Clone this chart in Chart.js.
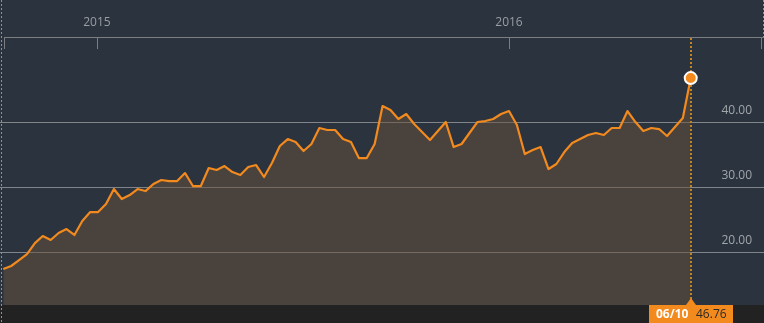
<!DOCTYPE html>
<html>
<head>
<meta charset="utf-8">
<script src="https://cdn.jsdelivr.net/npm/chart.js@4/dist/chart.umd.min.js"></script>
<style>
  html, body { margin: 0; padding: 0; background: #2a333e; overflow: hidden; }
  #wrap { width: 764px; height: 323px; }
</style>
</head>
<body>
<div id="wrap"><canvas id="stock"></canvas></div>
<script>
// weekly closes
const dates = [
  '2014-10-10','2014-10-17','2014-10-24','2014-10-31','2014-11-07','2014-11-14','2014-11-21','2014-11-28',
  '2014-12-05','2014-12-12','2014-12-19','2014-12-26',
  '2015-01-02','2015-01-09','2015-01-16','2015-01-23','2015-01-30','2015-02-06','2015-02-13','2015-02-20',
  '2015-02-27','2015-03-06','2015-03-13','2015-03-20','2015-03-27','2015-04-03','2015-04-10','2015-04-17',
  '2015-04-24','2015-05-01','2015-05-08','2015-05-15','2015-05-22','2015-05-29','2015-06-05','2015-06-12',
  '2015-06-19','2015-06-26','2015-07-03','2015-07-10','2015-07-17','2015-07-24','2015-07-31','2015-08-07',
  '2015-08-14','2015-08-21','2015-08-28','2015-09-04','2015-09-11','2015-09-18','2015-09-25','2015-10-02',
  '2015-10-09','2015-10-16','2015-10-23','2015-10-30','2015-11-06','2015-11-13','2015-11-20','2015-11-27',
  '2015-12-04','2015-12-11','2015-12-18','2015-12-25',
  '2016-01-01','2016-01-08','2016-01-15','2016-01-22','2016-01-29','2016-02-05','2016-02-12','2016-02-19',
  '2016-02-26','2016-03-04','2016-03-11','2016-03-18','2016-03-25','2016-04-01','2016-04-08','2016-04-15',
  '2016-04-22','2016-04-29','2016-05-06','2016-05-13','2016-05-20','2016-05-27','2016-06-03','2016-06-10'
];

const prices = [
  17.38, 17.85, 18.77, 19.69, 21.38, 22.46, 21.85, 22.92, 23.54, 22.62,
  24.77, 26.15, 26.15, 27.38, 29.69, 28.15, 28.77, 29.69, 29.38, 30.46,
  31.08, 30.92, 30.92, 32.15, 30.15, 30.15, 32.92, 32.62, 33.23, 32.31,
  31.85, 33.08, 33.38, 31.54, 33.69, 36.31, 37.38, 36.92, 35.54, 36.62,
  39.08, 38.77, 38.77, 37.38, 36.92, 34.46, 34.46, 36.62, 42.46, 41.85,
  40.46, 41.23, 39.69, 38.46, 37.23, 38.62, 40.00, 36.15, 36.62, 38.31,
  40.00, 40.15, 40.46, 41.23, 41.69, 39.54, 35.08, 35.69, 36.15, 32.77,
  33.54, 35.38, 36.77, 37.38, 38.00, 38.31, 38.00, 39.08, 39.08, 41.69,
  40.00, 38.62, 39.08, 38.92, 37.85, 39.23, 40.62, 46.76
];

const yearStarts = ['2015-01-01', '2016-01-01'];
const yearLabels = ['2015', '2016'];
const priceTicks = [20, 30, 40];

// days counted from 1 Jan 2015 so the x axis can stay linear
const EPOCH = Date.parse('2015-01-01');
const toDay = d => (Date.parse(d) - EPOCH) / 864e5;

const points = dates.map((d, i) => ({ x: toDay(d), y: prices[i] }));
const yearDays = yearStarts.map(toDay);
const last = points.length - 1;

const ORANGE = '#f28a1e';
const FONT = '"Open Sans", "DejaVu Sans", sans-serif';

// background, edge markers, top rule and the last-value marker
const decor = {
  id: 'decor',
  beforeDraw(chart) {
    const { ctx, width, height, chartArea } = chart;
    ctx.save();
    ctx.fillStyle = '#2a333e';
    ctx.fillRect(0, 0, width, height);
    ctx.fillStyle = '#222222';
    ctx.fillRect(0, chartArea.bottom, width, height - chartArea.bottom);
    ctx.restore();
  },
  afterDatasetsDraw(chart) {
    const { ctx, width, height, chartArea, scales } = chart;
    const x = scales.x;
    const top = chartArea.top;
    ctx.save();

    // top rule with its tick marks
    ctx.strokeStyle = '#7b7d80';
    ctx.lineWidth = 1;
    ctx.beginPath();
    ctx.moveTo(4, top + 0.5);
    ctx.lineTo(width, top + 0.5);
    const tickXs = [4, ...yearDays.map(d => Math.round(x.getPixelForValue(d))), width - 3];
    tickXs.forEach(px => {
      ctx.moveTo(px + 0.5, top);
      ctx.lineTo(px + 0.5, top + 12);
    });
    ctx.stroke();

    // dotted edges
    ctx.setLineDash([2, 2]);
    ctx.strokeStyle = '#d9822b';
    ctx.lineWidth = 1;
    ctx.beginPath();
    ctx.moveTo(1.5, 0);
    ctx.lineTo(1.5, height);
    ctx.moveTo(width - 0.5, 0);
    ctx.lineTo(width - 0.5, top);
    ctx.stroke();

    // crosshair at the last point
    const px = Math.round(x.getPixelForValue(points[last].x));
    const py = scales.y.getPixelForValue(points[last].y);
    ctx.strokeStyle = '#c4841f';
    ctx.lineWidth = 2;
    ctx.beginPath();
    ctx.moveTo(px, top + 1);
    ctx.lineTo(px, py - 7);
    ctx.moveTo(px, py + 7);
    ctx.lineTo(px, chartArea.bottom - 6);
    ctx.stroke();
    ctx.setLineDash([]);

    // value flag in the bottom band
    const b = chartArea.bottom;
    ctx.fillStyle = ORANGE;
    ctx.fillRect(px - 42, b, 84, height - b);
    ctx.beginPath();
    ctx.moveTo(px - 5, b);
    ctx.lineTo(px, b - 7);
    ctx.lineTo(px + 5, b);
    ctx.closePath();
    ctx.fill();

    const [, mm, dd] = dates[last].split('-');
    ctx.textBaseline = 'middle';
    ctx.textAlign = 'left';
    ctx.fillStyle = '#ffffff';
    ctx.font = 'bold 12px ' + FONT;
    ctx.fillText(mm + '/' + dd, px - 35, b + 9.5);
    ctx.fillStyle = '#2a2a2a';
    ctx.font = '12px ' + FONT;
    ctx.fillText(prices[last].toFixed(2), px + 5, b + 9.5);
    ctx.restore();
  }
};

const ctx = document.getElementById('stock').getContext('2d');

const chart = new Chart(ctx, {
  type: 'line',
  data: {
    datasets: [{
      label: 'Price',
      data: points,
      borderColor: ORANGE,
      borderWidth: 2.2,
      backgroundColor: 'rgba(106, 81, 59, 0.5)',
      fill: 'start',
      tension: 0,
      borderJoinStyle: 'round',
      pointRadius: c => c.dataIndex === last ? 6 : 0,
      pointBackgroundColor: ORANGE,
      pointBorderColor: '#ffffff',
      pointBorderWidth: 2
    }]
  },
  options: {
    responsive: true,
    maintainAspectRatio: false,
    animation: false,
    layout: { autoPadding: false, padding: { left: 0, right: 0, top: 0, bottom: 18 } },
    plugins: {
      legend: { display: false },
      tooltip: { enabled: false }
    },
    scales: {
      x: {
        type: 'linear',
        position: 'top',
        min: -85.9,
        max: 590.9,
        grid: { display: false, drawTicks: false },
        border: { display: false },
        afterBuildTicks: s => { s.ticks = yearDays.map(v => ({ value: v })); },
        afterFit: s => { s.height = 37; s.paddingLeft = 0; s.paddingRight = 0; },
        ticks: {
          padding: 7,
          color: '#9a9ea3',
          font: { family: FONT, size: 12 },
          maxRotation: 0,
          callback: v => yearLabels[yearDays.indexOf(v)]
        }
      },
      y: {
        position: 'right',
        min: 11.85,
        max: 53.08,
        grid: { color: 'rgba(200, 200, 200, 0.55)', lineWidth: 1, drawTicks: false },
        border: { display: false },
        afterBuildTicks: s => { s.ticks = priceTicks.map(v => ({ value: v })); },
        afterFit: s => { s.width = 0; s.paddingTop = 0; s.paddingBottom = 0; },
        ticks: {
          mirror: true,
          padding: -12,
          labelOffset: -11,
          color: '#a2a6ab',
          font: { family: FONT, size: 12 },
          callback: v => v.toFixed(2)
        }
      }
    }
  },
  plugins: [decor]
});
</script>
</body>
</html>
